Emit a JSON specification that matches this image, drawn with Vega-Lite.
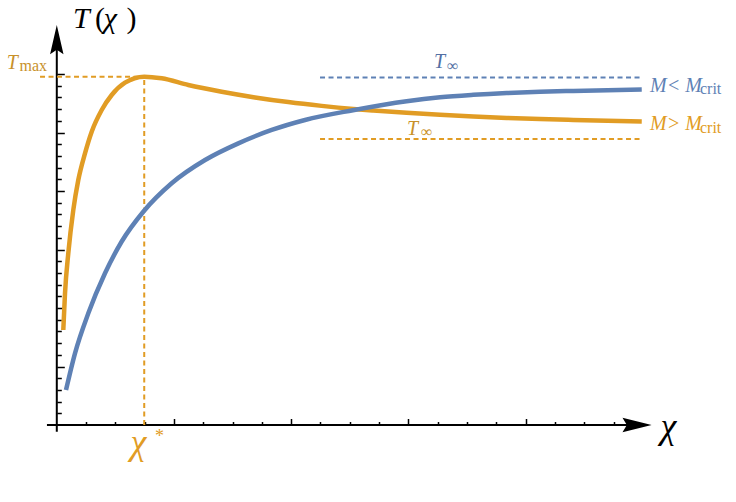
{
  "$schema": "https://vega.github.io/schema/vega-lite/v6.json",
  "width": 736,
  "height": 502,
  "autosize": {"type": "none"},
  "padding": 0,
  "background": "white",
  "config": {"view": {"stroke": null}, "font": "Liberation Serif"},
  "datasets": {
    "axes": [
      {"x": -0.084, "x2": 4.95, "y": 0, "y2": 0},
      {"x": 0, "x2": 0, "y": -0.115, "y2": 6.6}
    ],
    "arrows": [
      {"dir": "right", "x": 4.951, "y": 0},
      {"dir": "up", "x": 0, "y": 6.588}
    ],
    "levels": [
      {"series": "above", "x": -0.143, "x2": 0.746, "y": 5.955, "y2": 5.955},
      {"series": "above", "x": 0.746, "x2": 0.746, "y": 0, "y2": 5.955},
      {"series": "below", "x": 2.246, "x2": 4.976, "y": 5.94, "y2": 5.94},
      {"series": "above", "x": 2.246, "x2": 4.976, "y": 4.89, "y2": 4.89}
    ],
    "curves": [
      {"series": "above", "x": 0.0555, "y": 1.624},
      {"series": "above", "x": 0.07, "y": 2.251},
      {"series": "above", "x": 0.0981, "y": 2.935},
      {"series": "above", "x": 0.1408, "y": 3.675},
      {"series": "above", "x": 0.1834, "y": 4.188},
      {"series": "above", "x": 0.2406, "y": 4.644},
      {"series": "above", "x": 0.2978, "y": 5.014},
      {"series": "above", "x": 0.3831, "y": 5.385},
      {"series": "above", "x": 0.4684, "y": 5.641},
      {"series": "above", "x": 0.5819, "y": 5.851},
      {"series": "above", "x": 0.746, "y": 5.955},
      {"series": "above", "x": 0.895, "y": 5.926},
      {"series": "above", "x": 1.122, "y": 5.812},
      {"series": "above", "x": 1.407, "y": 5.697},
      {"series": "above", "x": 1.691, "y": 5.6},
      {"series": "above", "x": 1.975, "y": 5.52},
      {"series": "above", "x": 2.26, "y": 5.455},
      {"series": "above", "x": 2.53, "y": 5.403},
      {"series": "above", "x": 2.7, "y": 5.376},
      {"series": "above", "x": 2.985, "y": 5.337},
      {"series": "above", "x": 3.27, "y": 5.303},
      {"series": "above", "x": 3.554, "y": 5.274},
      {"series": "above", "x": 3.839, "y": 5.25},
      {"series": "above", "x": 4.123, "y": 5.229},
      {"series": "above", "x": 4.407, "y": 5.214},
      {"series": "above", "x": 4.991, "y": 5.19},
      {"series": "below", "x": 0.0785, "y": 0.598},
      {"series": "below", "x": 0.1553, "y": 1.226},
      {"series": "below", "x": 0.2688, "y": 1.909},
      {"series": "below", "x": 0.4113, "y": 2.593},
      {"series": "below", "x": 0.5538, "y": 3.137},
      {"series": "below", "x": 0.738, "y": 3.646},
      {"series": "below", "x": 0.98, "y": 4.132},
      {"series": "below", "x": 1.265, "y": 4.53},
      {"series": "below", "x": 1.549, "y": 4.815},
      {"series": "below", "x": 1.834, "y": 5.043},
      {"series": "below", "x": 2.118, "y": 5.214},
      {"series": "below", "x": 2.527, "y": 5.381},
      {"series": "below", "x": 2.985, "y": 5.535},
      {"series": "below", "x": 3.27, "y": 5.602},
      {"series": "below", "x": 3.554, "y": 5.644},
      {"series": "below", "x": 3.839, "y": 5.675},
      {"series": "below", "x": 4.123, "y": 5.697},
      {"series": "below", "x": 4.407, "y": 5.711},
      {"series": "below", "x": 4.991, "y": 5.733}
    ],
    "labels": [
      {"part": "symbol", "series": "axes", "text": "T", "x": 0.138, "y": 6.778},
      {"part": "symbol", "series": "axes", "text": "χ", "x": 0.4, "y": 6.778},
      {"part": "bigSymbol", "series": "axes", "text": "χ", "x": 5.15, "y": -0.215},
      {"part": "bigSymbol", "series": "above", "text": "χ", "x": 0.628, "y": -0.5},
      {"part": "bracket", "series": "axes", "text": "(", "x": 0.326, "y": 6.778},
      {"part": "bracket", "series": "axes", "text": ")", "x": 0.595, "y": 6.778},
      {"part": "name", "series": "aboveLevel", "text": "T", "x": -0.4275, "y": 6.094},
      {"part": "name", "series": "aboveLevel", "text": "T", "x": 2.988, "y": 4.957},
      {"part": "name", "series": "belowLevel", "text": "T", "x": 3.219, "y": 6.097},
      {"part": "name", "series": "below", "text": "M< M", "x": 5.062, "y": 5.697},
      {"part": "name", "series": "above", "text": "M> M", "x": 5.062, "y": 5.043},
      {"part": "sub", "series": "aboveLevel", "text": "max", "x": -0.318, "y": 6.051},
      {"part": "sub", "series": "aboveLevel", "text": "∞", "x": 3.108, "y": 4.923},
      {"part": "sub", "series": "belowLevel", "text": "∞", "x": 3.33, "y": 6.05},
      {"part": "sub", "series": "below", "text": "crit", "x": 5.488, "y": 5.653},
      {"part": "sub", "series": "above", "text": "crit", "x": 5.488, "y": 4.997},
      {"part": "star", "series": "above", "text": "*", "x": 0.838, "y": -0.299}
    ]
  },
  "encoding": {
    "x": {
      "field": "x", "type": "quantitative",
      "scale": {"domain": [-0.4846, 5.7952], "nice": false, "zero": false},
      "axis": {
        "orient": "top",
        "values": [0.25, 0.5, 0.75, 1, 1.25, 1.5, 1.75, 2, 2.25, 2.5, 2.75, 3, 3.25, 3.5, 3.75, 4, 4.25, 4.5, 4.75],
        "labels": false, "domain": false, "grid": false, "title": null,
        "offset": -425, "tickColor": "black", "tickWidth": 1.5, "tickSize": 6.5,
        "tickDash": {"condition": {"test": "abs(datum.value - round(datum.value)) < 0.01", "value": [20, 0]}, "value": [3.5, 20]}
      }
    },
    "y": {
      "field": "y", "type": "quantitative",
      "scale": {"domain": [-1.3162, 7.265], "nice": false, "zero": false},
      "axis": {
        "orient": "right",
        "values": [0.2, 0.4, 0.6, 0.8, 1, 1.2, 1.4, 1.6, 1.8, 2, 2.2, 2.4, 2.6, 2.8, 3, 3.2, 3.4, 3.6, 3.8, 4, 4.2, 4.4, 4.6, 4.8, 5, 5.2, 5.4, 5.6, 5.8, 6],
        "labels": false, "domain": false, "grid": false, "title": null,
        "offset": -679.2, "tickColor": "black", "tickWidth": 1.5, "tickSize": 7.5,
        "tickDash": {"condition": {"test": "abs(datum.value - round(datum.value)) < 0.01", "value": [20, 0]}, "value": [4.5, 20]}
      }
    }
  },
  "layer": [
    {
      "data": {"name": "axes"},
      "mark": {"type": "rule", "color": "black", "strokeWidth": 2},
      "encoding": {
        "x2": {"field": "x2"},
        "y2": {"field": "y2"}
      }
    },
    {
      "data": {"name": "levels"},
      "mark": {"type": "rule", "strokeWidth": 2, "strokeDash": [5, 3.5]},
      "encoding": {
        "x2": {"field": "x2"},
        "y2": {"field": "y2"},
        "color": {
          "field": "series", "type": "nominal", "legend": null,
          "scale": {"domain": ["axes", "below", "above", "belowLevel", "aboveLevel"], "range": ["#000000", "#5E81B5", "#E19C24", "#5470A4", "#C8912A"]}
        }
      }
    },
    {
      "data": {"name": "curves"},
      "mark": {"type": "line", "strokeWidth": 4.5, "interpolate": "monotone"},
      "encoding": {
        "color": {"field": "series", "type": "nominal", "legend": null},
        "detail": {"field": "series"}
      }
    },
    {
      "data": {"name": "arrows"},
      "mark": {"type": "point", "filled": true, "color": "black", "opacity": 1, "size": 850},
      "encoding": {
        "shape": {
          "field": "dir", "type": "nominal", "legend": null,
          "scale": {"domain": ["right", "up"], "range": ["M1,0L-1,0.5L-0.7,0L-1,-0.5Z", "M0,-1L0.46,1L0,0.7L-0.46,1Z"]}
        }
      }
    },
    {
      "data": {"name": "labels"},
      "transform": [{"filter": "datum.part === 'symbol'"}],
      "mark": {"type": "text", "fontSize": 30, "fontStyle": "italic", "align": "left", "baseline": "alphabetic"},
      "encoding": {
        "text": {"field": "text"},
        "color": {"field": "series", "type": "nominal", "legend": null}
      }
    },
    {
      "data": {"name": "labels"},
      "transform": [{"filter": "datum.part === 'bigSymbol'"}],
      "mark": {"type": "text", "fontSize": 36, "fontStyle": "italic", "align": "left", "baseline": "alphabetic"},
      "encoding": {
        "text": {"field": "text"},
        "color": {"field": "series", "type": "nominal", "legend": null}
      }
    },
    {
      "data": {"name": "labels"},
      "transform": [{"filter": "datum.part === 'bracket'"}],
      "mark": {"type": "text", "fontSize": 30, "align": "left", "baseline": "alphabetic"},
      "encoding": {
        "text": {"field": "text"},
        "color": {"field": "series", "type": "nominal", "legend": null}
      }
    },
    {
      "data": {"name": "labels"},
      "transform": [{"filter": "datum.part === 'name'"}],
      "mark": {"type": "text", "fontSize": 20, "fontStyle": "italic", "align": "left", "baseline": "alphabetic"},
      "encoding": {
        "text": {"field": "text"},
        "color": {"field": "series", "type": "nominal", "legend": null}
      }
    },
    {
      "data": {"name": "labels"},
      "transform": [{"filter": "datum.part === 'sub'"}],
      "mark": {"type": "text", "fontSize": 16, "align": "left", "baseline": "alphabetic"},
      "encoding": {
        "text": {"field": "text"},
        "color": {"field": "series", "type": "nominal", "legend": null}
      }
    },
    {
      "data": {"name": "labels"},
      "transform": [{"filter": "datum.part === 'star'"}],
      "mark": {"type": "text", "fontSize": 18, "align": "left", "baseline": "alphabetic"},
      "encoding": {
        "text": {"field": "text"},
        "color": {"field": "series", "type": "nominal", "legend": null}
      }
    }
  ]
}
